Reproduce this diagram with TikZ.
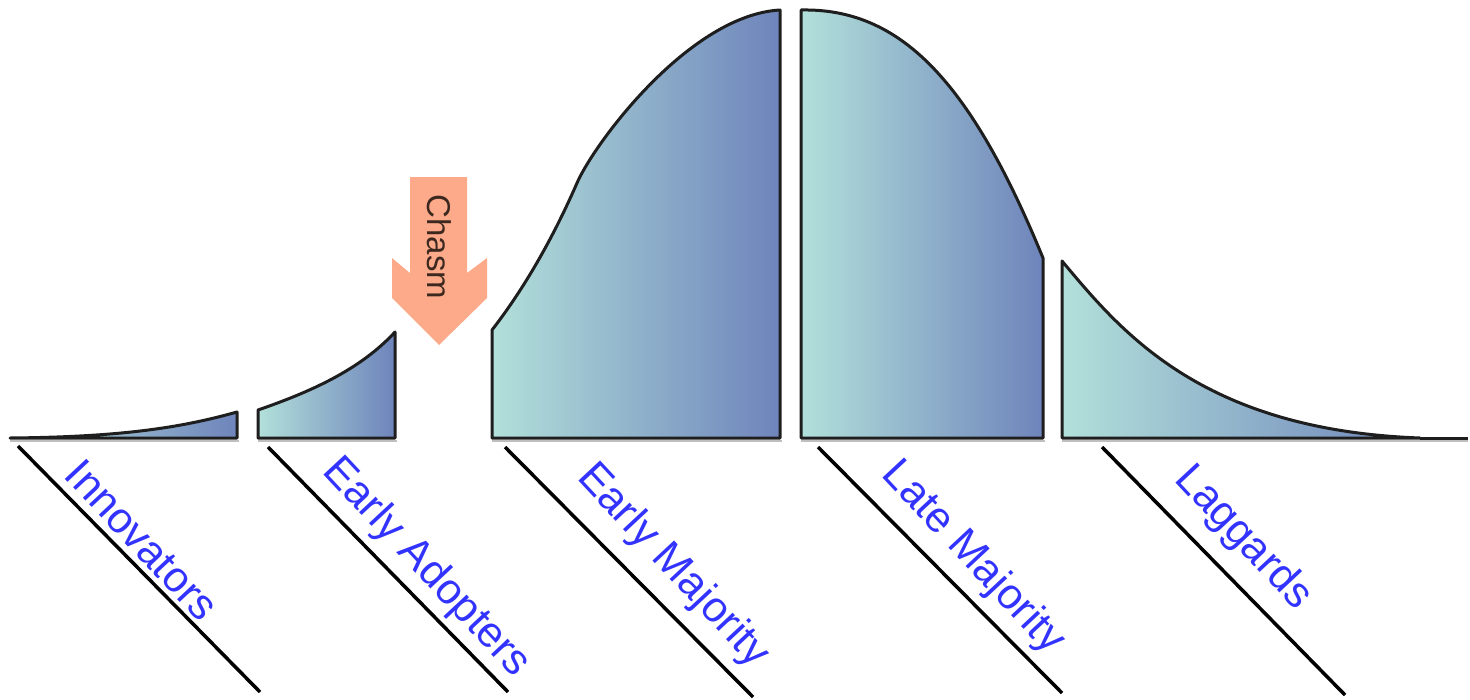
\documentclass[tikz,border=0pt]{standalone}
\usepackage{fontspec}
\setmainfont{Liberation Sans}
\definecolor{tealL}{RGB}{178,224,218}
\definecolor{blueR}{RGB}{110,132,187}
\definecolor{chasmC}{RGB}{252,170,138}
\definecolor{lblC}{RGB}{51,51,255}
\definecolor{edgeC}{RGB}{30,30,30}
\definecolor{chasmT}{RGB}{60,40,30}
\tikzset{
  piece/.style={left color=tealL, right color=blueR, draw=edgeC, line width=3pt, line join=round},
  shadowline/.style={draw=black!25, line width=2pt},
  tick/.style={draw=black, line width=3.5pt},
  lbl/.style={text=lblC, font=\fontsize{43}{50}\selectfont, rotate=-47, inner sep=0pt, anchor=center},
}
\begin{document}
\begin{tikzpicture}[x=1pt,y=-1pt]
\useasboundingbox (0,0) rectangle (1470,699);
% shadows under baselines
\draw[shadowline] (10,441) -- (239,441);
\draw[shadowline] (258,441) -- (397,441);
\draw[shadowline] (492,441) -- (782,441);
\draw[shadowline] (801,441) -- (1045,441);
\draw[shadowline] (1062,441) -- (1468,441);
% Innovators
\draw[piece] (10,438) .. controls (120,437) and (180,428) .. (237,412) -- (237,438) -- cycle;
% Early adopters
\draw[piece] (258,438) -- (258,410) .. controls (310,392) and (360,370) .. (395,332) -- (395,438) -- cycle;
% Early majority
\draw[piece] (492,438) -- (492,330) .. controls (520,294) and (550,245) .. (577,183)
   .. controls (595,142) and (690,15) .. (780,10) -- (780,438) -- cycle;
% Late majority
\draw[piece] (801,438) -- (801,10) .. controls (900,8) and (970,80) .. (1043,258) -- (1043,438) -- cycle;
% Laggards
\draw[piece] (1062,438) -- (1062,261) .. controls (1120,330) and (1200,430) .. (1420,438) -- cycle;
\draw[draw=edgeC, line width=3pt] (1420,438) -- (1468,438);
% Chasm arrow
\fill[chasmC] (410,177) -- (467,177) -- (467,273) -- (487,258) -- (487,298) -- (439,345)
   -- (392,298) -- (392,258) -- (410,273) -- cycle;
\node[text=chasmT, font=\fontsize{33}{40}\selectfont, rotate=-90, inner sep=0pt] (chasm) at (439,247) {Chasm};
% label ticks
\coordinate (a1) at (18,446);  \coordinate (b1) at (260,692);
\coordinate (a2) at (268,447); \coordinate (b2) at (508,692);
\coordinate (a3) at (505,447); \coordinate (b3) at (753,697);
\coordinate (a4) at (818,447); \coordinate (b4) at (1062,693);
\coordinate (a5) at (1102,447);\coordinate (b5) at (1345,695);
\draw[tick] (a1) -- (b1);
\draw[tick] (a2) -- (b2);
\draw[tick] (a3) -- (b3);
\draw[tick] (a4) -- (b4);
\draw[tick] (a5) -- (b5);
\node[lbl] (l1) at (142,540) {Innovators};
\node[lbl] (l2) at (426,568) {Early Adopters};
\node[lbl] (l3) at (673,566) {Early Majority};
\node[lbl] (l4) at (973,558) {Late Majority};
\node[lbl] (l5) at (1243,538) {Laggards};
\end{tikzpicture}
\end{document}
